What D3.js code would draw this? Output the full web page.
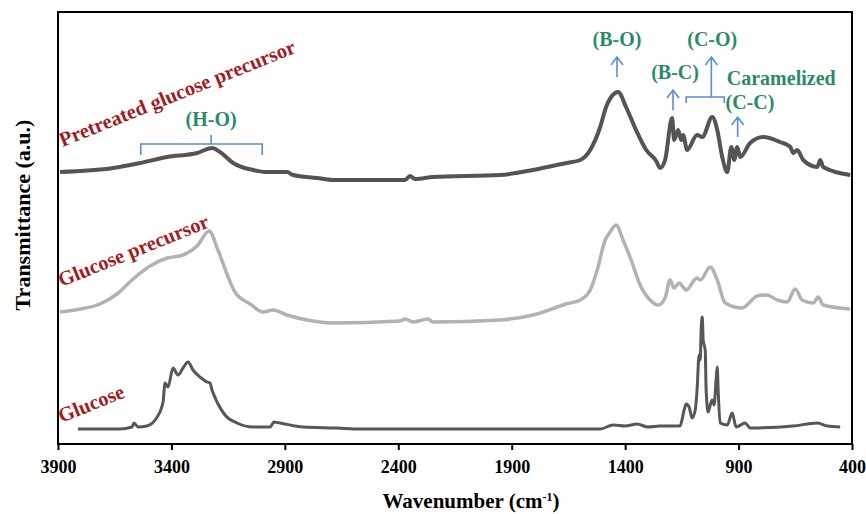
<!DOCTYPE html>
<head>
  <meta charset="utf-8">
  <script src="https://d3js.org/d3.v7.min.js"></script>
  <style>
    body { margin: 0; background: #fff; }
    svg text { font-family: "Liberation Serif", "Times New Roman", serif; font-weight: bold; }
    .tick text { font-size: 18px; }
    .sample { fill: #a11d22; font-size: 20.5px; }
    .bond { fill: #2b8a68; font-size: 20px; text-anchor: middle; }
    .mark { fill: none; stroke: #5b8dcf; stroke-width: 1.6; }
  </style>
</head>
<body>
<script>

// FTIR spectra, [wavenumber (cm-1), transmittance (a.u., offset)]
var pretreated = [
  [3891,272],[3657,276],[3538,281],[3419,287],[3287,291],[3221,296],[3186,292],[3128,281],
  [3040,274],[2978,272],[2890,272],[2864,269],[2758,266],[2687,264],[2524,264],[2370,264],
  [2348,268],[2326,265],[2247,267],[1951,269],[1806,274],[1660,281],[1598,284],[1554,294],
  [1510,317],[1484,337],[1444,351],[1431,352],[1396,337],[1352,314],[1307,294],[1263,283],
  [1246,276],[1224,284],[1193,326],[1184,304],[1166,314],[1153,304],[1144,309],[1127,294],
  [1083,309],[1060,307],[1016,327],[994,314],[972,287],[950,272],[932,297],[919,284],
  [906,297],[893,287],[849,301],[792,307],[717,302],[672,297],[659,291],[642,294],
  [615,284],[553,277],[540,284],[527,277],[408,269]
];

var precursor = [
  [3891,132],[3803,135],[3715,140],[3640,150],[3569,165],[3494,178],[3419,186],[3349,189],
  [3287,198],[3234,213],[3195,194],[3150,167],[3120,152],[3053,140],[2996,132],[2952,134],
  [2890,129],[2802,124],[2687,121],[2392,123],[2370,125],[2335,122],[2269,125],[2247,122],
  [1951,124],[1806,129],[1660,140],[1598,144],[1554,154],[1523,174],[1488,204],[1466,212],
  [1440,219],[1409,204],[1369,181],[1334,159],[1290,144],[1254,139],[1224,146],[1202,164],
  [1184,156],[1162,161],[1131,154],[1083,166],[1069,164],[1025,177],[994,164],[959,141],
  [884,136],[818,148],[774,149],[730,144],[686,142],[650,155],[620,144],[571,141],
  [549,147],[527,139],[408,135]
];

var glucose = [
  [3812,15],[3627,15],[3574,17],[3565,21],[3547,17],[3508,18],[3463,27],[3437,42],
  [3428,61],[3415,57],[3393,76],[3371,69],[3349,76],[3327,82],[3305,74],[3274,67],
  [3243,62],[3230,61],[3221,54],[3199,42],[3164,29],[3111,21],[3040,17],[2965,17],
  [2948,22],[2921,21],[2820,17],[2670,16],[2568,15],[1510,15],[1453,19],[1400,18],
  [1347,20],[1300,17],[1246,18],[1158,18],[1140,34],[1131,40],[1118,37],[1105,26],
  [1091,34],[1083,54],[1074,89],[1069,84],[1065,114],[1060,127],[1056,104],[1052,99],
  [1047,94],[1043,54],[1034,32],[1025,39],[1016,44],[1008,39],[999,64],[994,77],
  [990,54],[981,21],[950,19],[928,31],[911,17],[871,21],[849,16],[659,18],
  [553,21],[509,18],[452,17]
];

var xTicks = [3900, 3400, 2900, 2400, 1900, 1400, 900, 400];

var sampleNames = ["Pretreated glucose precursor", "Glucose precursor", "Glucose"];
var sampleAt = [[3880, 297], [3885, 157], [3885, 21]];

// band labels: text, wavenumber, value
var bandNames = ["(H-O)", "(B-O)", "(B-C)", "(C-O)", "Caramelized", "(C-C)"];
var bandAt = [[3225, 318], [1436, 398], [1180, 365], [1016, 398], [712, 359], [850, 335]];
// arrows: wavenumber, from value, to value
var arrows = [[1436, 367, 387], [1189, 334, 354], [1020, 347, 387], [904, 307, 327]];

var width = 866, height = 514;
var margin = {top: 12, right: 14, bottom: 70, left: 58};

var svg = d3.select("body").append("svg")
    .attr("width", width)
    .attr("height", height);

var x = d3.scaleLinear()
    .domain([3900, 400])
    .range([margin.left, width - margin.right]);

var y = d3.scaleLinear()
    .domain([0, 432])
    .range([height - margin.bottom, margin.top]);

var line = d3.line()
    .x(function(d) { return x(d[0]); })
    .y(function(d) { return y(d[1]); })
    .curve(d3.curveMonotoneX);

svg.append("path").datum(precursor)
    .attr("d", line)
    .attr("fill", "none")
    .attr("stroke", "#b2b2b2")
    .attr("stroke-width", 3.5)
    .attr("stroke-linejoin", "round");

svg.append("path").datum(glucose)
    .attr("d", line)
    .attr("fill", "none")
    .attr("stroke", "#575757")
    .attr("stroke-width", 3)
    .attr("stroke-linejoin", "round");

svg.append("path").datum(pretreated)
    .attr("d", line)
    .attr("fill", "none")
    .attr("stroke", "#545454")
    .attr("stroke-width", 4)
    .attr("stroke-linejoin", "round");

// frame
svg.append("rect")
    .attr("x", x(3900))
    .attr("y", y(432))
    .attr("width", x(400) - x(3900))
    .attr("height", y(0) - y(432))
    .attr("fill", "none")
    .attr("stroke", "#000")
    .attr("stroke-width", 2);

var xAxis = svg.append("g")
    .attr("transform", "translate(0," + y(0) + ")")
    .call(d3.axisBottom(x).tickValues(xTicks).tickSize(6).tickPadding(10).tickFormat(d3.format("d")));
xAxis.select(".domain").remove();
xAxis.selectAll(".tick line").attr("stroke", "#000").attr("stroke-width", 2);
xAxis.selectAll(".tick text").attr("fill", "#000");

var xl = svg.append("text")
    .attr("x", 471)
    .attr("y", 508)
    .attr("text-anchor", "middle")
    .style("font-size", "21px")
    .text("Wavenumber (cm");
xl.append("tspan").attr("baseline-shift", "super").style("font-size", "12px").text("-1");
xl.append("tspan").text(")");

svg.append("text")
    .attr("transform", "translate(30,215) rotate(-90)")
    .attr("text-anchor", "middle")
    .style("font-size", "22px")
    .text("Transmittance (a.u.)");

// sample names
svg.selectAll(".sample")
    .data(sampleNames)
  .enter().append("text")
    .attr("class", "sample")
    .attr("transform", function(d, i) {
      return "translate(" + x(sampleAt[i][0]) + "," + y(sampleAt[i][1]) + ") rotate(-22)";
    })
    .text(function(d) { return d; });

// band names
svg.selectAll(".bond")
    .data(bandNames)
  .enter().append("text")
    .attr("class", "bond")
    .attr("x", function(d, i) { return x(bandAt[i][0]); })
    .attr("y", function(d, i) { return y(bandAt[i][1]); })
    .text(function(d) { return d; });

// arrows
arrows.forEach(function(a) {
  var ax = x(a[0]), y0 = y(a[1]), y1 = y(a[2]);
  svg.append("path")
      .attr("class", "mark")
      .attr("d", "M" + ax + "," + y0 + "V" + y1 + "M" + (ax - 6) + "," + (y1 + 8) + "L" + ax + "," + y1 + "L" + (ax + 6) + "," + (y1 + 8));
});

// brackets
var hoL = x(3535), hoR = x(3000), hoC = x(3225), hoY = y(300);
svg.append("path")
    .attr("class", "mark")
    .attr("d", "M" + hoL + "," + (hoY + 11) + "V" + hoY + "H" + hoR + "V" + (hoY + 11) + "M" + hoC + "," + hoY + "V" + (hoY - 9));

var coL = x(1131), coR = x(963), coY = y(347);
svg.append("path")
    .attr("class", "mark")
    .attr("d", "M" + coL + "," + (coY + 6) + "V" + coY + "H" + coR + "V" + (coY + 6));

</script>
</body>
